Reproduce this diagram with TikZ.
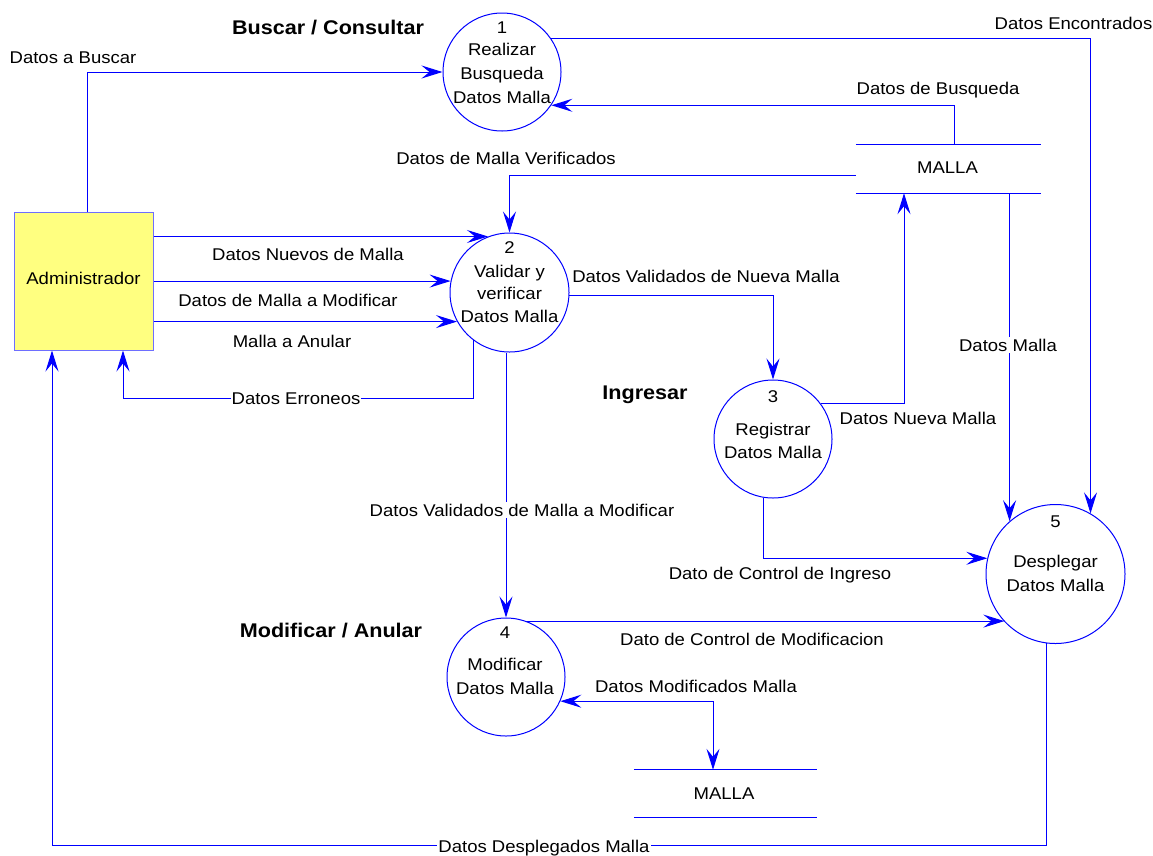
\documentclass[tikz,border=0pt]{standalone}
\usepackage{fontspec}
\setmainfont{Liberation Sans}[FakeStretch=1.09]
\usetikzlibrary{arrows.meta}
\definecolor{flow}{RGB}{0,0,255}
\definecolor{entfill}{RGB}{255,255,128}
\definecolor{entline}{RGB}{110,110,255}

\begin{document}
\begin{tikzpicture}[x=1pt,y=-1pt,
  txt/.style={font=\fontsize{17}{20}\selectfont, inner sep=0pt, anchor=base},
  ttl/.style={font=\fontsize{19.8}{22}\selectfont\bfseries, inner sep=0pt, anchor=base},
  proc/.style={circle, draw=flow, line width=1pt, inner sep=0pt},
  store/.style={inner sep=0pt},
  flowline/.style={draw=flow, line width=1pt},
  arr/.style={flowline, -{Stealth[length=21pt,width=13pt,inset=8pt]}},
  arrboth/.style={flowline, {Stealth[length=21pt,width=13pt,inset=8pt]}-{Stealth[length=21pt,width=13pt,inset=8pt]}},
  onl/.style={txt, fill=white, inner xsep=1pt, inner ysep=2pt}
]
\useasboundingbox (0,0) rectangle (1153,855);

% external entity
\node[draw=entline, fill=entfill, line width=1pt, minimum width=139pt, minimum height=138pt, inner sep=0pt] (adm) at (83.5,281) {};
\node[txt] (admtxt) at (83.5,284) {Administrador};

% processes
\node[proc, minimum size=118pt] (c1) at (502,72) {};
\node[proc, minimum size=119pt] (c2) at (509.5,292.5) {};
\node[proc, minimum size=118pt] (c3) at (773,439) {};
\node[proc, minimum size=118pt] (c4) at (506,677) {};
\node[proc, minimum size=139pt] (c5) at (1055.5,574) {};

\node[txt] (c1a) at (502,33) {1};
\node[txt] (c1b) at (502,55) {Realizar};
\node[txt] (c1c) at (502,79) {Busqueda};
\node[txt] (c1d) at (502,103) {Datos Malla};

\node[txt] (c2a) at (509.5,253) {2};
\node[txt] (c2b) at (509.5,277) {Validar y};
\node[txt] (c2c) at (509.5,299) {verificar};
\node[txt] (c2d) at (509.5,322) {Datos Malla};

\node[txt] (c3a) at (773,402) {3};
\node[txt] (c3b) at (773,435) {Registrar};
\node[txt] (c3c) at (773,458) {Datos Malla};

\node[txt] (c4a) at (505,638) {4};
\node[txt] (c4b) at (505,670) {Modificar};
\node[txt] (c4c) at (505,694) {Datos Malla};

\node[txt] (c5a) at (1055.5,527) {5};
\node[txt] (c5b) at (1055.5,567) {Desplegar};
\node[txt] (c5c) at (1055.5,591) {Datos Malla};

% data stores
\node[store, minimum width=185pt, minimum height=48pt] (m1) at (948.5,169) {};
\draw[flowline] (m1.north west) -- (m1.north east) (m1.south west) -- (m1.south east);
\node[txt] (m1txt) at (947.5,173) {MALLA};
\node[store, minimum width=183pt, minimum height=47pt] (m2) at (725.5,793.5) {};
\draw[flowline] (m2.north west) -- (m2.north east) (m2.south west) -- (m2.south east);
\node[txt] (m2txt) at (724,799) {MALLA};

% bend points
\coordinate (errbend) at (123,398);
\coordinate (dspbend) at (52,845);

% flows
\draw[arr] ([xshift=3.5pt]adm.north) |- (c1.west);
\draw[arr] (c1.34) -| (c5.60);
\draw[arr] ([xshift=5.5pt]m1.north) |- (c1.326);
\draw[arr] ([yshift=-6pt]m1.west) -| (c2.north);
\draw[arr] (adm.east |- c2.111) -- (c2.111);
\draw[arr] (adm.east |- c2.169) -- (c2.169);
\draw[arr] (adm.east |- c2.209) -- (c2.209);
\draw[arr] (c2.233) |- (errbend) -- (errbend |- adm.south);
\draw[arr] (c2.357) -| (c3.north);
\draw[arr] (c3.37) -| ([xshift=-44.5pt]m1.south);
\draw[arr] (m1.south -| c5.131) -- (c5.131);
\draw[arr] (c4.north |- c2.south) -- (c4.north);
\draw[arr] (c3.261) |- (c5.167);
\draw[arr] (c4.70) -- (c4.70 -| c5.223);
\draw[arrboth] (c4.336) -| ([xshift=-12.5pt]m2.north);
\draw[arr] (c5.263) |- (dspbend) -- (dspbend |- adm.south);

% flow labels
\node[txt] (l1) at (73,63) {Datos a Buscar};
\node[txt] (l2) at (1073.5,29) {Datos Encontrados};
\node[txt] (l3) at (938,94) {Datos de Busqueda};
\node[txt] (l4) at (506,164) {Datos de Malla Verificados};
\node[txt] (l5) at (308,260) {Datos Nuevos de Malla};
\node[txt] (l6) at (288,306) {Datos de Malla a Modificar};
\node[txt] (l7) at (292,347) {Malla a Anular};
\node[onl] (l8) at (296,404) {Datos Erroneos};
\node[txt] (l9) at (706,282) {Datos Validados de Nueva Malla};
\node[txt] (l10) at (918,424) {Datos Nueva Malla};
\node[onl] (l11) at (1008,351) {Datos Malla};
\node[onl] (l12) at (522,516) {Datos Validados de Malla a Modificar};
\node[txt] (l13) at (780,579) {Dato de Control de Ingreso};
\node[txt] (l14) at (752,645) {Dato de Control de Modificacion};
\node[txt] (l15) at (696,692) {Datos Modificados Malla};
\node[onl] (l16) at (544,852) {Datos Desplegados Malla};

% section titles
\node[ttl] (t1) at (328,34) {Buscar / Consultar};
\node[ttl] (t2) at (645,399) {Ingresar};
\node[ttl] (t3) at (331,637) {Modificar / Anular};
\end{tikzpicture}
\end{document}
